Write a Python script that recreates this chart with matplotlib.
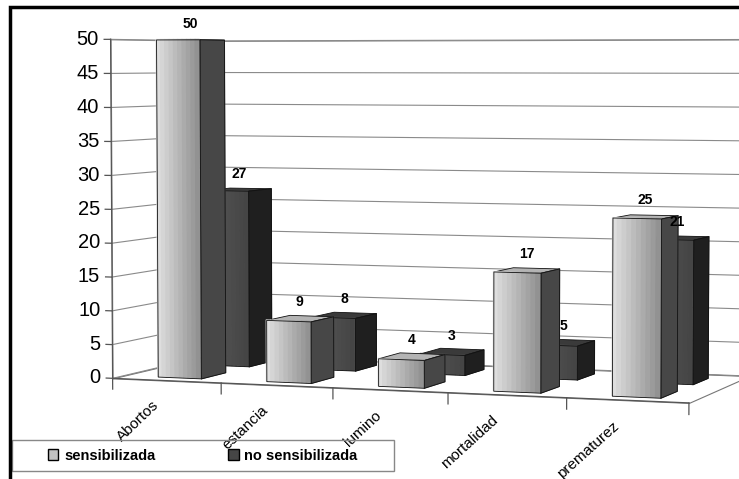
import matplotlib.pyplot as plt
import numpy as np
from matplotlib.colors import to_rgb
from matplotlib.patches import Rectangle, Patch
from mpl_toolkits.mplot3d.art3d import Poly3DCollection

categories = ['Abortos', 'estancia', 'lumino', 'mortalidad', 'prematurez']
sensibilizada = [50, 9, 4, 17, 25]
no_sensibilizada = [27, 8, 3, 5, 21]
series_names = ['sensibilizada', 'no sensibilizada']
z_ticks = list(range(0, 55, 5))

plt.rcParams['font.family'] = ['Liberation Sans', 'DejaVu Sans']

W, H = 739, 479
fig = plt.figure(figsize=(W / 100, H / 100), dpi=100)
# 3D axes are forced square, so make a big square centred on the chart
S = 900
cx, cy = 420 / W, 1 - 221 / H
ax = fig.add_axes([cx - S / W / 2, cy - S / H / 2, S / W, S / H], projection='3d',
                  computed_zorder=False)
ax.view_init(elev=3, azim=-70)
ax.set_proj_type('persp', focal_length=0.58)

n = len(categories)
depth = 2.0
zmax = 50
bar_w = 0.4
bar_d = 0.5
row_y = [0.25, 1.25]
clear = (0, 0, 0, 0)


def face(verts, color, z, ec='#111111', lw=0.6):
    pc = Poly3DCollection([verts], facecolors=[color], edgecolors=[ec], linewidths=lw)
    pc.set_zorder(z)
    ax.add_collection3d(pc)


def shaded(p0, p1, h0, h1, c0, c1, z, steps=10):
    # a vertical face from p0 to p1 (x, y) and height h0..h1, coloured c0 -> c1
    c0, c1 = np.array(to_rgb(c0)), np.array(to_rgb(c1))
    t = np.linspace(0, 1, steps + 1)
    polys, cols = [], []
    for a, b in zip(t[:-1], t[1:]):
        xa, ya = p0[0] + (p1[0] - p0[0]) * a, p0[1] + (p1[1] - p0[1]) * a
        xb, yb = p0[0] + (p1[0] - p0[0]) * b, p0[1] + (p1[1] - p0[1]) * b
        polys.append([(xa, ya, h0), (xb, yb, h0), (xb, yb, h1), (xa, ya, h1)])
        cols.append(tuple(c0 + (c1 - c0) * (a + b) / 2))
    pc = Poly3DCollection(polys, facecolors=cols, edgecolors=cols, linewidths=0.8)
    pc.set_zorder(z)
    ax.add_collection3d(pc)
    face([(p0[0], p0[1], h0), (p1[0], p1[1], h0), (p1[0], p1[1], h1), (p0[0], p0[1], h1)],
         clear, z + 0.5)


def line(xs, ys, zs, color='#555555', lw=0.9, z=3):
    ax.plot(xs, ys, zs, color=color, lw=lw, zorder=z, scalex=False, scaley=False)


# walls and floor
face([(0, 0, 0), (0, depth, 0), (0, depth, zmax), (0, 0, zmax)], 'white', 1, ec='#8a8a8a', lw=0.8)
face([(0, depth, 0), (n, depth, 0), (n, depth, zmax), (0, depth, zmax)], 'white', 1, ec='#8a8a8a', lw=0.8)
face([(0, 0, 0), (n, 0, 0), (n, depth, 0), (0, depth, 0)], 'white', 1, ec='#777777', lw=0.8)

# gridlines on left and back walls
for z in z_ticks:
    line([0, 0, n], [0, depth, depth], [z, z, z], color='#8a8a8a', lw=0.8, z=2)

# value axis
line([0, 0], [0, 0], [0, zmax])
for z in z_ticks:
    line([0, -0.06], [0, 0], [z, z])
    ax.text(-0.11, 0, z, str(z), ha='right', va='center', fontsize=14.5, zorder=3)

# category axis
line([0, n], [0, 0], [0, 0])
for b in range(n + 1):
    line([b, b], [0, 0], [0, -1.6])
for i, c in enumerate(categories):
    ax.text(i + 0.45, 0, -2.6, c, zdir=(1, 0, 16), ha='right', va='top', fontsize=11, zorder=3)

# bars: back row first, left to right, faces top -> side -> front
styles = [
    dict(top='#b4b4b4', side=('#474747', '#474747'), front=('#e2e2e2', '#8e8e8e')),
    dict(top='#3a3a3a', side=('#1f1f1f', '#1f1f1f'), front=('#585858', '#444444')),
]
for row in (1, 0):
    vals = [sensibilizada, no_sensibilizada][row]
    st = styles[row]
    y0, y1 = row_y[row], row_y[row] + bar_d
    for i, v in enumerate(vals):
        x0 = i + (1 - bar_w) / 2
        x1 = x0 + bar_w
        zo = 10 + (1 - row) * 40 + i * 5
        face([(x0, y0, v), (x1, y0, v), (x1, y1, v), (x0, y1, v)], st['top'], zo)
        shaded((x1, y0), (x1, y1), 0, v, st['side'][0], st['side'][1], zo + 1, steps=1)
        shaded((x0, y0), (x1, y0), 0, v, st['front'][0], st['front'][1], zo + 3)
        ax.text(i + 0.5, (y0 + y1) / 2, v + 1.3, str(v), ha='center', va='bottom',
                fontsize=10, fontweight='bold', zorder=100)

ax.set_xlim(0, n)
ax.set_ylim(0, depth)
ax.set_zlim(0, zmax)
ax.set_box_aspect((5, 2, 2.85), zoom=0.78)
ax.set_axis_off()

# legend box
fig.add_artist(Rectangle((12 / W, 8 / H), 382 / W, 31 / H, transform=fig.transFigure,
                         fill=False, edgecolor='#888888', lw=1))
handles = [Patch(facecolor='#c2c2c2', edgecolor='black'), Patch(facecolor='#464646', edgecolor='black')]
fig.legend(handles, series_names, loc='center', bbox_to_anchor=(12 / W, 8 / H, 382 / W, 31 / H),
           ncol=2, frameon=False, prop=dict(weight='bold', size=10.5),
           handlelength=0.7, handleheight=0.7, columnspacing=5.0, handletextpad=0.4)

# outer frame
fig.add_artist(Rectangle((10 / W, -0.1), 1.2, 1.1 - 7 / H, transform=fig.transFigure,
                         fill=False, edgecolor='black', lw=2.5))

fig.savefig('out.png', dpi=100)
